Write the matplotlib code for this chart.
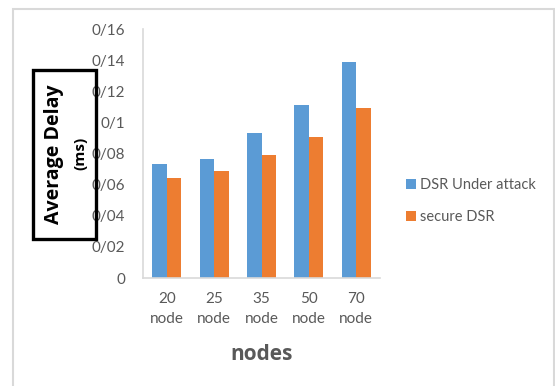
import matplotlib.pyplot as plt
from matplotlib.patches import Rectangle
import numpy as np

# ==============================
# Data
# ==============================
nodes = ["20\nnode", "25\nnode", "35\nnode", "50\nnode", "70\nnode"]
under_attack = [0.0733, 0.0767, 0.0932, 0.1114, 0.1388]
secure_dsr = [0.0645, 0.0690, 0.0793, 0.0908, 0.1090]
y_ticks = [0, 0.02, 0.04, 0.06, 0.08, 0.10, 0.12, 0.14, 0.16]

BLUE = "#5B9BD5"
ORANGE = "#ED7D31"
GREY_TXT = "#595959"
GREY_LINE = "#D9D9D9"

plt.rcParams['font.family'] = ['Lato', 'DejaVu Sans']

W, H = 555, 386
fig = plt.figure(figsize=(W / 100, H / 100), dpi=100)


def fx(px):
    return px / W


def fy(py):
    return 1 - py / H


# outer chart border
fig.patches.append(Rectangle((fx(12.5), -0.05), fx(553.5) - fx(12.5), fy(8.5) + 0.05,
                             transform=fig.transFigure, fill=False,
                             edgecolor=GREY_LINE, linewidth=1.5))

ax = fig.add_axes([fx(143), fy(278), fx(380) - fx(143), fy(29) - fy(278)])

x = np.arange(len(nodes))
w = 0.305
ax.bar(x - w / 2, under_attack, w, color=BLUE, label="DSR Under attack")
ax.bar(x + w / 2, secure_dsr, w, color=ORANGE, label="secure DSR")

ax.set_xlim(-0.5, len(nodes) - 0.5)
ax.set_ylim(0, 0.16)
ax.set_yticks(y_ticks)
ax.set_yticklabels(["0" if v == 0 else ("%g" % v).replace(".", "/") for v in y_ticks])
ax.set_xticks(x)
ax.set_xticklabels(nodes, linespacing=1.6)
ax.tick_params(length=0, colors=GREY_TXT, labelsize=11)
ax.tick_params(axis="y", pad=13)
ax.tick_params(axis="x", pad=10)

for s in ["top", "right"]:
    ax.spines[s].set_visible(False)
for s in ["left", "bottom"]:
    ax.spines[s].set_color(GREY_LINE)
    ax.spines[s].set_linewidth(1.2)

# x axis title
fig.text(fx(262), fy(355), "nodes", fontsize=15, fontweight="bold",
         family="Open Sans", color=GREY_TXT, ha="center", va="center")

# boxed y axis title
fig.patches.append(Rectangle((fx(33), fy(239)), fx(96) - fx(33), fy(70) - fy(239),
                             transform=fig.transFigure, fill=False,
                             edgecolor="black", linewidth=2.4))
fig.text(fx(54), fy(154), "Average Delay", rotation=90, fontsize=14,
         fontweight="bold", family="Open Sans", color="black",
         ha="center", va="center")
fig.text(fx(80), fy(153), "(ms)", rotation=90, fontsize=11,
         fontweight="bold", family="Open Sans", color="black",
         ha="center", va="center")

# legend
fig.legend(loc="center left", bbox_to_anchor=(fx(393), fy(201)), frameon=False,
           handlelength=0.7, handleheight=0.7, handletextpad=0.25,
           labelspacing=1.25, fontsize=10.5, labelcolor=GREY_TXT)

fig.savefig("out.png", dpi=100)
